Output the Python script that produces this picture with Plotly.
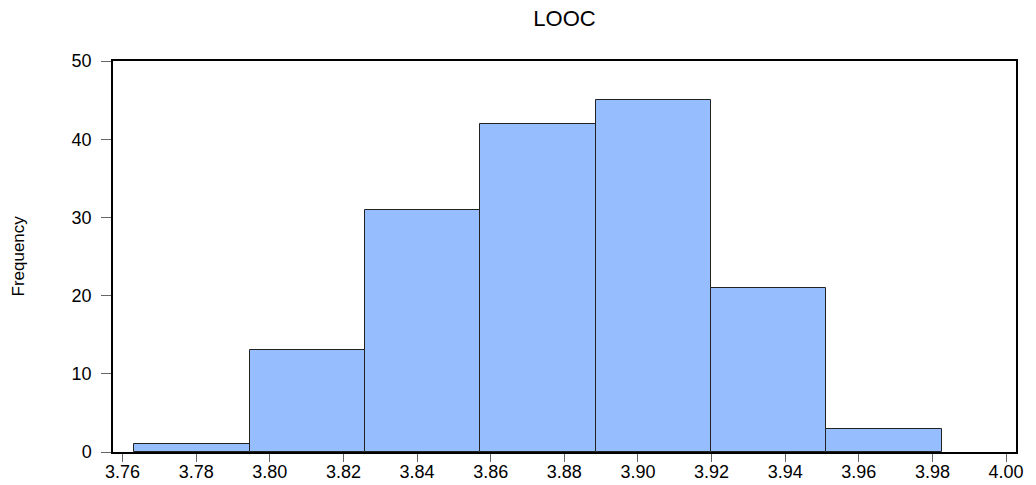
import plotly.graph_objects as go

# Histogram of LOOC: bin edges and frequencies
bin_left = [3.7632, 3.7945, 3.8258, 3.8572, 3.8885, 3.9199, 3.9512]
bin_right = [3.7945, 3.8258, 3.8572, 3.8885, 3.9199, 3.9512, 3.9826]
counts = [1, 13, 31, 42, 45, 21, 3]

x_ticks = [3.76, 3.78, 3.80, 3.82, 3.84, 3.86, 3.88, 3.90, 3.92, 3.94, 3.96, 3.98, 4.00]
y_ticks = [0, 10, 20, 30, 40, 50]

centers = [(a + b) / 2 for a, b in zip(bin_left, bin_right)]
widths = [b - a for a, b in zip(bin_left, bin_right)]

fig = go.Figure()
fig.add_trace(
    go.Bar(
        x=centers,
        y=counts,
        width=widths,
        marker=dict(color="#96BEFF", line=dict(color="#222", width=1)),
        showlegend=False,
    )
)

fig.update_layout(
    width=1036,
    height=485,
    margin=dict(l=113, r=20, t=61, b=33),
    paper_bgcolor="white",
    plot_bgcolor="white",
    font=dict(family="Liberation Sans, Arial", size=18, color="black"),
    title=dict(text="LOOC", x=0.5, xanchor="center", xref="paper", y=0.963, yanchor="middle",
               font=dict(size=22)),
    bargap=0,
)

# y-axis label
fig.add_annotation(
    text="Frequency", xref="paper", yref="paper", x=0, y=0.5,
    xshift=-95, xanchor="center", yanchor="middle", textangle=-90,
    showarrow=False, font=dict(size=17),
)

fig.update_xaxes(
    range=[3.7574, 4.0027],
    tickvals=x_ticks,
    ticktext=["%.2f" % v for v in x_ticks],
    ticks="outside",
    ticklen=8,
    tickcolor="#666",
    ticklabelstandoff=-5,
    showline=True,
    linecolor="black",
    linewidth=1.5,
    mirror=True,
    showgrid=False,
    zeroline=False,
    automargin=False,
)
fig.update_yaxes(
    range=[0, 50],
    tickvals=y_ticks,
    ticks="outside",
    ticklen=10,
    tickcolor="#666",
    ticklabelstandoff=6,
    showline=True,
    linecolor="black",
    linewidth=1.5,
    mirror=True,
    showgrid=False,
    zeroline=False,
    automargin=False,
)

# drop the default 8px body margin so the figure fills the window
fig.write_html(
    "out.html",
    config={"displayModeBar": False},
    post_script="document.body.style.margin='0';",
)
